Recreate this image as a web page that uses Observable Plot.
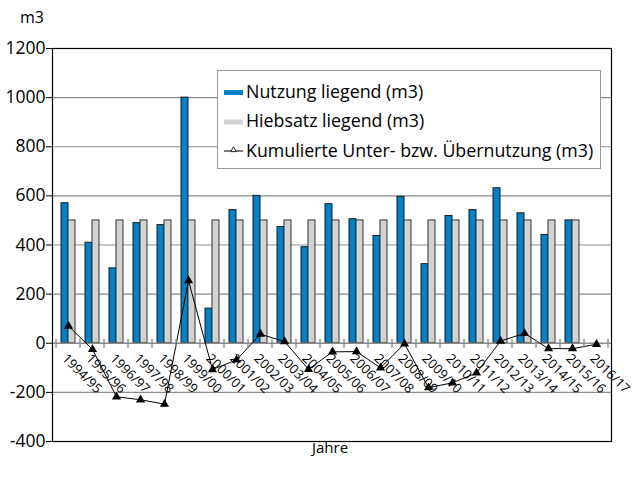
<!DOCTYPE html>
<html><head><meta charset="utf-8">
<script src="https://cdn.jsdelivr.net/npm/d3@7"></script>
<script src="https://cdn.jsdelivr.net/npm/@observablehq/plot@0.6"></script>
<style>
body{margin:0;background:#fff;}
#chart{position:relative;width:633px;height:482px;}
</style>
</head><body>
<div id="chart"></div>
<script>
const years = ["1994/95","1995/96","1996/97","1997/98","1998/99","1999/00","2000/01","2001/02","2002/03","2003/04","2004/05","2005/06","2006/07","2007/08","2008/09","2009/10","2010/11","2011/12","2012/13","2013/14","2014/15","2015/16","2016/17"];
const nutzung = [570,409,305,489,481,1000,141,542,600,473,391,566,505,437,596,322,518,542,631,529,441,500,null];
const hiebsatz = [500,500,500,500,500,500,500,500,500,500,500,500,500,500,500,500,500,500,500,500,500,500,null];
const kumuliert = [70,-25,-218,-230,-248,255,-107,-68,37,7,-106,-35,-34,-100,-2,-181,-161,-121,9,40,-22,-22,-4];
const yTicks = [-400,-200,0,200,400,600,800,1000,1200];
const seriesNames = ["Nutzung liegend (m3)","Hiebsatz liegend (m3)","Kumulierte Unter- bzw. Übernutzung (m3)"];
const colors = ["#0082C8","#D2D2D2","#000000"];

const rows = years.map((y,i)=>({year:y, n:nutzung[i], h:hiebsatz[i], k:kumuliert[i]}));
const font = "'Open Sans', Lato, sans-serif";

const chart = Plot.plot({
  width:633, height:482,
  marginLeft:52, marginRight:22, marginTop:48, marginBottom:41,
  style:{fontFamily:font, fontSize:"17px", background:"#fff", color:"#000"},
  x:{domain:years, padding:0, axis:null},
  y:{domain:[-400,1200], axis:null},
  marks:[
    Plot.ruleY(yTicks.filter(v=>v>-400 && v<1200 && v!==0), {stroke:"#8c8c8c", strokeWidth:1.2}),
    Plot.barY(rows.filter(d=>d.n!=null), {x:"year", y:"n", fill:colors[0], stroke:"#1a1a1a", strokeWidth:1, insetLeft:5, insetRight:12}),
    Plot.barY(rows.filter(d=>d.h!=null), {x:"year", y:"h", fill:colors[1], stroke:"#333", strokeWidth:1, insetLeft:12, insetRight:5}),
    Plot.ruleY([0], {stroke:"#8c8c8c", strokeWidth:1.6}),
    Plot.line(rows, {x:"year", y:"k", stroke:"#000", strokeWidth:1}),
    Plot.dot(rows, {x:"year", y:"k", symbol:"triangle", fill:"#000", stroke:"none", r:3.4}),
    Plot.text(rows, {x:"year", y:()=>0, text:"year", rotate:45, textAnchor:"start", lineAnchor:"middle", dx:-4, dy:13, fontSize:13, fill:"#000"}),
    Plot.frame({stroke:"#000", strokeWidth:1.2}),
    Plot.axisY(yTicks, {tickSize:6, tickPadding:1, fontSize:17.5, anchor:"left", label:null, stroke:"#000", tickFormat:d=>String(d)})
  ]
});
document.getElementById("chart").appendChild(chart);

const svg = d3.select(chart);
const xs = chart.scale("x"), ys = chart.scale("y");
const y0 = ys.apply(0);
const bounds = years.map(y=>xs.apply(y)).concat([xs.apply(years[years.length-1]) + xs.bandwidth]);
svg.append("g").selectAll("line").data(bounds).join("line")
  .attr("x1",d=>d).attr("x2",d=>d).attr("y1",y0-4).attr("y2",y0+5)
  .attr("stroke","#8c8c8c").attr("stroke-width",1.4);

svg.append("text").attr("x",32).attr("y",23).attr("text-anchor","middle")
  .attr("font-family",font).attr("font-size",16).text("m3");
svg.append("text").attr("x",330).attr("y",453).attr("text-anchor","middle")
  .attr("font-family",font).attr("font-size",15).text("Jahre");

// legend
const lg = svg.append("g").attr("transform","translate(217,70)").attr("font-family",font).attr("font-size",17.8).attr("text-anchor","start");
lg.append("rect").attr("x",0.5).attr("y",0.5).attr("width",383).attr("height",98).attr("fill","#fff").attr("stroke","#999");
const rowY = [27.5,57,86.5];
lg.append("rect").attr("x",7).attr("y",rowY[0]-7.5).attr("width",19).attr("height",5).attr("fill",colors[0]);
lg.append("rect").attr("x",7).attr("y",rowY[1]-7.5).attr("width",19).attr("height",5).attr("fill",colors[1]);
lg.append("line").attr("x1",7).attr("x2",26).attr("y1",rowY[2]-5.5).attr("y2",rowY[2]-5.5).attr("stroke","#000");
lg.append("path").attr("d",d3.symbol(d3.symbolTriangle,14)()).attr("transform",`translate(16.5,${rowY[2]-6.5})`).attr("fill","#fff").attr("stroke","#000").attr("stroke-width",0.8);
seriesNames.forEach((s,i)=>{
  lg.append("text").attr("x",29).attr("y",rowY[i]).attr("text-anchor","start").text(s);
});
</script>
</body></html>
